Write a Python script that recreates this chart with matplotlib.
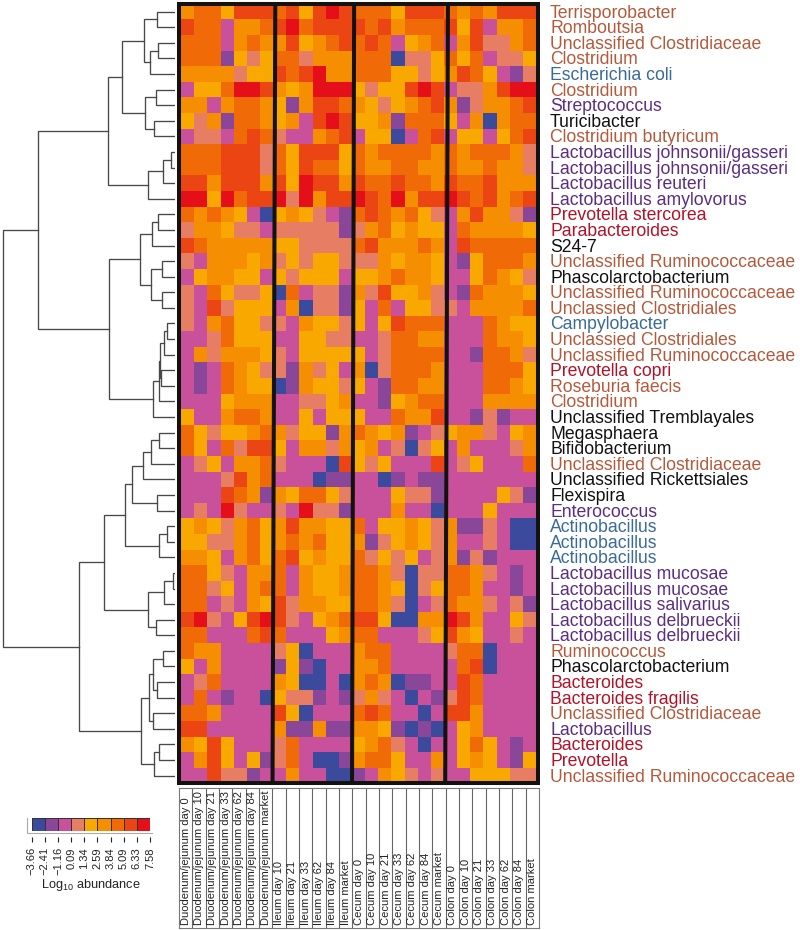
import matplotlib
matplotlib.use("Agg")
import matplotlib.pyplot as plt
import numpy as np
from matplotlib.colors import ListedColormap, BoundaryNorm
from matplotlib.transforms import ScaledTranslation

plt.rcParams['font.family'] = ['Liberation Sans', 'DejaVu Sans']

# colour bin of every cell, one string per taxon, one digit per sample
duodenum = ["5664777", "7662556", "6662565", "6661434", "5555344", "2446887", "5525665", "4351665", "2332676",
            "6667773", "6667773", "7757775", "8848677", "6565420", "3554332", "7655555", "3255545", "2455442",
            "3264334", "3273444", "3256443", "2236444", "2535554", "2126543", "2126544", "2224555", "4225665",
            "6434456", "6426377", "2342556", "2223756", "2227651", "2328322", "4543564", "4433564", "5542564",
            "6643255", "6634256", "6623254", "7832478", "6622267", "6552222", "4252222", "2362222", "2621220",
            "6652222", "7722222", "5474222", "2574241", "2273312"]
ileum = ["674787", "786777", "574567", "663555", "767855", "545888", "415776", "452787", "322567",
         "647774", "647664", "748775", "838577", "454321", "333331", "443333", "343443", "434442",
         "062331", "250331", "325443", "224433", "324444", "315342", "015443", "223345", "224244",
         "534415", "425535", "322207", "222011", "546643", "328331", "575544", "565644", "674544",
         "625445", "625445", "735544", "732456", "622245", "340222", "141022", "540020", "433121",
         "740222", "511511", "362222", "362001", "252200"]
cecum = ["6664777", "7675666", "6762456", "6660334", "6664434", "4344787", "5434567", "4451666", "2440267",
         "6566665", "6556655", "7667665", "8768577", "6765643", "3564544", "6755565", "3354554", "4456554",
         "5374453", "4262443", "4247666", "2236655", "4236666", "5036665", "4216655", "2214566", "4226557",
         "6545123", "4523034", "4342227", "2201211", "2224331", "2225220", "6244543", "5134543", "6343423",
         "6653033", "6654034", "6653023", "7740055", "6622234", "5662222", "5562222", "5650112", "3532021",
         "6762202", "5541010", "4563202", "5664225", "1254323"]
colon = ["6565777", "7472556", "2573356", "6462334", "5764213", "2335788", "5135567", "4250566", "2442467",
         "6566653", "6556553", "7667555", "8767567", "2575531", "2655554", "2766666", "2146665", "2246543",
         "2165554", "3255556", "2226544", "2226554", "2216653", "2226664", "2226654", "2225555", "2213122",
         "4553245", "2522235", "2342226", "2222222", "2222431", "2224222", "5113200", "5223200", "5131222",
         "6653212", "6652212", "6553231", "8752243", "7542232", "3660222", "2670222", "2762222", "3762222",
         "7752222", "2452222", "2464212", "2454214", "2244433"]

taxa = ["Terrisporobacter", "Romboutsia", "Unclassified Clostridiaceae", "Clostridium", "Escherichia coli",
        "Clostridium", "Streptococcus", "Turicibacter", "Clostridium butyricum", "Lactobacillus johnsonii/gasseri",
        "Lactobacillus johnsonii/gasseri", "Lactobacillus reuteri", "Lactobacillus amylovorus",
        "Prevotella stercorea", "Parabacteroides", "S24-7", "Unclassified Ruminococcaceae",
        "Phascolarctobacterium", "Unclassified Ruminococcaceae", "Unclassied Clostridiales", "Campylobacter",
        "Unclassied Clostridiales", "Unclassified Ruminococcaceae", "Prevotella copri", "Roseburia faecis",
        "Clostridium", "Unclassified Tremblayales", "Megasphaera", "Bifidobacterium",
        "Unclassified Clostridiaceae", "Unclassified Rickettsiales", "Flexispira", "Enterococcus",
        "Actinobacillus", "Actinobacillus", "Actinobacillus", "Lactobacillus mucosae", "Lactobacillus mucosae",
        "Lactobacillus salivarius", "Lactobacillus delbrueckii", "Lactobacillus delbrueckii", "Ruminococcus",
        "Phascolarctobacterium", "Bacteroides", "Bacteroides fragilis", "Unclassified Clostridiaceae",
        "Lactobacillus", "Bacteroides", "Prevotella", "Unclassified Ruminococcaceae"]
# b brown, l blue, p purple, r red, k black
taxa_group = "bbbblbpkbppppr" + "rkbkbblbbrbbkkkbkkp" + "lllpppppbkrrbprrb"

samples = ["Duodenum/jejunum day 0", "Duodenum/jejunum day 10", "Duodenum/jejunum day 21", "Duodenum/jejunum day 33",
           "Duodenum/jejunum day 62", "Duodenum/jejunum day 84", "Duodenum/jejunum market",
           "Ileum day 10", "Ileum day 21", "Ileum day 33", "Ileum day 62", "Ileum day 84", "Ileum market",
           "Cecum day 0", "Cecum day 10", "Cecum day 21", "Cecum day 33", "Cecum day 62", "Cecum day 84", "Cecum market",
           "Colon day 0", "Colon day 10", "Colon day 21", "Colon day 33", "Colon day 62", "Colon day 84", "Colon market"]

bounds = [-3.66, -2.41, -1.16, 0.09, 1.34, 2.59, 3.84, 5.09, 6.33, 7.58]
colors = ["#3c4a9e", "#8a4698", "#c9509a", "#e77e63", "#f9a800", "#f58e00", "#f06a08", "#ea4512", "#e50f1a"]

# row dendrogram as (height, left, right), a plain int is a row
tree = (172,
        (137,
         (67,
          (53,
           (31, (18, 0, 1), (25, (17, 2, 3), 4)),
           (30, (19, 5, 6), (21, 7, 8))),
          (27, (12, (4, 9, 10), 11), 12)),
         (66,
          (35,
           (23, (17, 13, 14), 15),
           (24, (13, 16, 17), (13, 18, 19))),
          (22, (16, (15, (11, (8, 20, 21), 22), (14, 23, 24)), 25), 26))),
        (96,
         (71,
          (50,
           (43, (32, (24, (16, 27, 28), 29), 30), (18, 31, 32)),
           (16, (8, 33, 34), 35)),
          (27, (11, (2, 36, 37), 38), (19, 39, 40))),
         (34,
          (26, (22, (12, 41, 42), (18, 43, 44)), (22, 45, 46)),
          (21, (16, 47, 48), 49))))

W, H = 800, 930
label_colors = {"b": "#b5593b", "l": "#3a6a97", "p": "#5c2d83", "r": "#b01327", "k": "#111111"}


def box(x0, y0, x1, y1):
    # pixel box, measured from the top left, to a figure rectangle
    return [x0 / W, 1 - y1 / H, (x1 - x0) / W, (y1 - y0) / H]


fig = plt.figure(figsize=(W / 100, H / 100), dpi=100)

levels = np.array([[int(c) for c in a + b + d + e] for a, b, d, e in zip(duodenum, ileum, cecum, colon)])
mids = (np.array(bounds[:-1]) + np.array(bounds[1:])) / 2
abundance = mids[levels]
cmap = ListedColormap(colors)
norm = BoundaryNorm(bounds, cmap.N)

# heatmap
ax = fig.add_axes(box(181.2, 3.9, 536, 783.4))
ax.pcolormesh(abundance, cmap=cmap, norm=norm)
ax.set_xlim(0, len(samples))
ax.set_ylim(len(taxa), 0)
ax.set_xticks([])
ax.set_yticks([])
for s in ax.spines.values():
    s.set_visible(False)

# black separators between the organs, they lean a little in the original
sep_top = [7.16, 13.16, 20.3]
sep_bottom = [6.95, 13.0, 20.09]
for a, b in zip(sep_top, sep_bottom):
    ax.plot([a, b], [0, len(taxa)], color="#12120e", lw=2.9, clip_on=False, zorder=5, solid_capstyle="butt")
ax.plot([-0.14, 27.13, 27.13, -0.14, -0.14], [0.03, 0.03, 50.0, 50.0, 0.03], color="#12120e", lw=2.9,
        clip_on=False, zorder=6, solid_joinstyle="miter", solid_capstyle="projecting")

# taxa labels
offset = ax.transAxes + ScaledTranslation(14 / 100, -1.5 / 100, fig.dpi_scale_trans)
for i, name in enumerate(taxa):
    ax.text(1.0, 1 - (i + 0.5) / len(taxa), name, transform=offset,
            color=label_colors[taxa_group[i]], fontsize=12.7, va="center", ha="left")

# dendrogram
dax = fig.add_axes(box(0, 3.9, 175, 783.4))
dax.set_xlim(175, 0)
dax.set_ylim(len(taxa), 0)
dax.axis("off")


def draw(node):
    # returns height and row position of the node
    if isinstance(node, int):
        return 0, node + 0.5
    h, left, right = node
    hl, yl = draw(left)
    hr, yr = draw(right)
    dax.plot([hl, h, h, hr], [yl, yl, yr, yr], color="#484848", lw=0.95, solid_joinstyle="miter")
    return h, (yl + yr) / 2


draw(tree)

# sample label table
tax = fig.add_axes(box(179, 788, 539, 928))
tax.set_xlim(0, len(samples))
tax.set_ylim(0, 1)
tax.set_xticks([])
tax.set_yticks([])
for s in tax.spines.values():
    s.set_color("#777777")
    s.set_linewidth(0.8)
tax.vlines(np.arange(1, len(samples)), 0, 1, color="#666666", lw=0.8)
for i, name in enumerate(samples):
    tax.text(i + 0.5, 0.025, name, rotation=90, ha="center", va="bottom", fontsize=8.0, color="#222222")

# legend
lax = fig.add_axes(box(31.7, 818, 150, 830.7))
for name, s in lax.spines.items():
    s.set_visible(False)
lax.spines["bottom"].set_position(("outward", 4.3))
lax.pcolormesh(bounds, [0, 1], np.array(mids).reshape(1, -1), cmap=cmap, norm=norm, edgecolors="#333333", linewidth=0.6)
lax.set_xlim(bounds[0], bounds[-1])
lax.set_yticks([])
lax.set_xticks(bounds)
lax.set_xticklabels([("%.2f" % b).replace("-", "\u2212") for b in bounds], rotation=90, fontsize=8.0, color="#222222")
lax.tick_params(axis="x", length=3.6, width=0.8, color="#222222", pad=4)
lax.plot([-0.04, -0.04, 1.02], [1.0, -0.18, -0.18], transform=lax.transAxes, color="#aaaaaa", lw=0.8, clip_on=False)
fig.text(90.7 / W, 1 - 885 / H, r"Log$_{\mathregular{10}}$ abundance", ha="center", va="center", fontsize=9.2, color="#222222")

plt.savefig("out.png", dpi=100)
